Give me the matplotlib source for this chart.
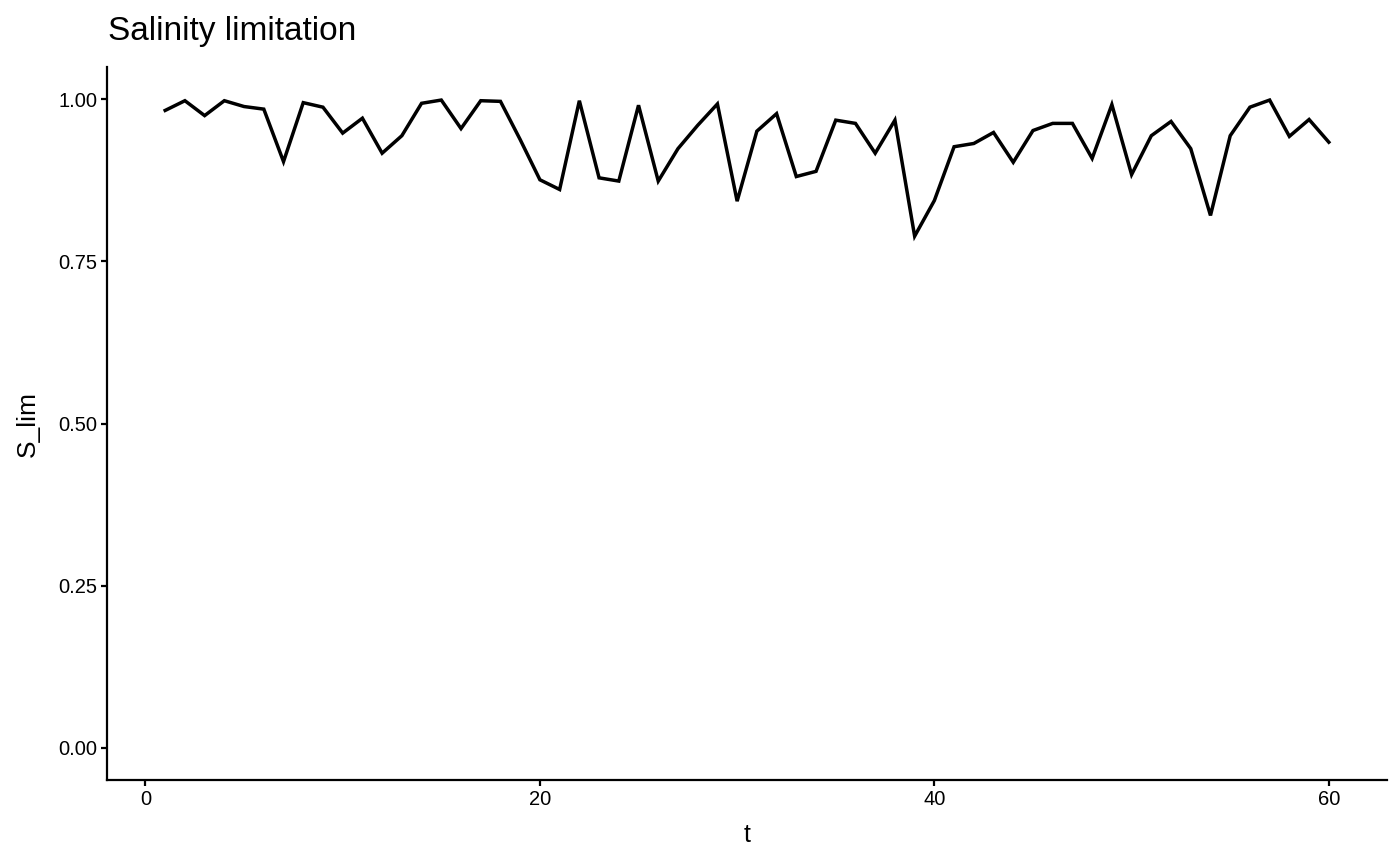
import matplotlib
matplotlib.use("Agg")
import matplotlib.pyplot as plt

plt.rcParams['font.family'] = ['Liberation Sans', 'DejaVu Sans']

t = list(range(1, 61))
s_lim = [0.983, 0.998, 0.975, 0.998, 0.989, 0.985, 0.904, 0.995, 0.988, 0.948,
         0.971, 0.917, 0.944, 0.994, 0.999, 0.955, 0.998, 0.997, 0.938, 0.876,
         0.861, 0.998, 0.879, 0.874, 0.991, 0.874, 0.924, 0.960, 0.993, 0.843,
         0.951, 0.978, 0.881, 0.889, 0.968, 0.963, 0.917, 0.968, 0.789, 0.844,
         0.927, 0.932, 0.949, 0.903, 0.952, 0.963, 0.963, 0.909, 0.992, 0.884,
         0.944, 0.966, 0.924, 0.821, 0.944, 0.988, 0.999, 0.943, 0.969, 0.934]

x_ticks = [0, 20, 40, 60]
y_ticks = [0.0, 0.25, 0.5, 0.75, 1.0]
y_labels = ['0.00', '0.25', '0.50', '0.75', '1.00']

fig = plt.figure(figsize=(14, 8.65), dpi=100)
ax = fig.add_axes([107 / 1400, 1 - 780 / 865, (1387 - 107) / 1400, (780 - 67) / 865])

ax.plot(t, s_lim, color='black', linewidth=2.5, solid_joinstyle='miter')

ax.set_xlim(-1.95, 62.95)
ax.set_ylim(-0.05, 1.05)
ax.set_xticks(x_ticks)
ax.set_yticks(y_ticks)
ax.set_yticklabels(y_labels)

for side in ['top', 'right']:
    ax.spines[side].set_visible(False)
for side in ['left', 'bottom']:
    ax.spines[side].set_linewidth(1.6)
ax.tick_params(axis='both', direction='out', length=4, width=1.6, labelsize=14.5,
               colors='black', pad=3)

# axis titles and title placed in figure pixels
fig.text(747 / 1400, 1 - 835 / 865, 't', fontsize=18, ha='center', va='center')
fig.text(28 / 1400, 1 - 424 / 865, 'S_lim', fontsize=19, ha='center', va='center',
         rotation=90)
fig.text(108 / 1400, 1 - 40 / 865, 'Salinity limitation', fontsize=24, ha='left',
         va='baseline')

fig.savefig('out.png', dpi=100, facecolor='white')
